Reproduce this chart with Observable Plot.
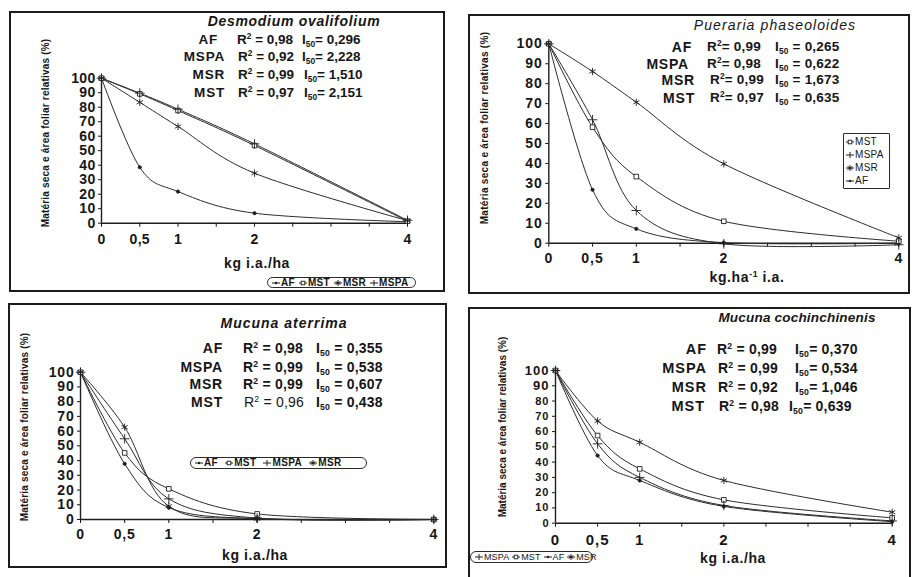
<!DOCTYPE html>
<html><head><meta charset="utf-8">
<script src="https://cdn.jsdelivr.net/npm/d3@7"></script>
<script src="https://cdn.jsdelivr.net/npm/@observablehq/plot@0.6"></script>
<style>
html,body{margin:0;padding:0;background:#fff;}
#root{position:relative;width:914px;height:577px;overflow:hidden;background:#fff;font-family:"Liberation Sans",Arial,Helvetica,sans-serif;color:#161616;}
.abs{position:absolute;white-space:nowrap;line-height:1;}
.box{position:absolute;border:2px solid #1c1c1c;box-sizing:border-box;pointer-events:none;}
sup{font-size:62%;vertical-align:0.6em;line-height:0;}
sub{font-size:62%;vertical-align:-0.3em;line-height:0;}
.leg{position:absolute;border:1px solid #2a2a2a;box-sizing:border-box;line-height:1;white-space:nowrap;overflow:visible;}
.leg span.it{display:inline-flex;align-items:center;}
</style></head><body><div id="root"></div>
<script>
// ---------- data ----------
const doses = [0, 0.5, 1, 2, 4];
const xTickPositions = [0, 0.5, 1, 1.5, 2, 2.5, 3, 3.5, 4];
const xTickValues = [0, 0.5, 1, 2, 4];
const xTickLabels = ["0", "0,5", "1", "2", "4"];
const yTickValues = [0, 10, 20, 30, 40, 50, 60, 70, 80, 90, 100];

// Desmodium ovalifolium
const desmodiumAF   = [100, 38.6, 21.8, 6.9, 1];
const desmodiumMST  = [100, 89.2, 77.7, 53.6, 1.4];
const desmodiumMSPA = [100, 89.7, 78.6, 54.7, 2];
const desmodiumMSR  = [100, 83.4, 66.7, 34.5, 1.8];
const desmodiumNames = ["AF", "MSPA", "MSR", "MST"];
const desmodiumR2  = ["0,98", "0,92", "0,99", "0,97"];
const desmodiumI50 = ["0,296", "2,228", "1,510", "2,151"];

// Pueraria phaseoloides
const puerariaAF   = [100, 26.8, 7.2, 0.3, 0];
const puerariaMST  = [100, 58.2, 33.4, 11, 1];
const puerariaMSPA = [100, 61.9, 16.4, -0.3, -0.8];
const puerariaMSR  = [100, 86.1, 70.7, 39.8, 2.7];
const puerariaNames = ["AF", "MSPA", "MSR", "MST"];
const puerariaR2  = ["0,99", "0,98", "0,99", "0,97"];
const puerariaI50 = ["0,265", "0,622", "1,673", "0,635"];

// Mucuna aterrima
const aterrimaAF   = [100, 37.8, 8.1, 0.5, 0];
const aterrimaMST  = [100, 45.2, 20.8, 3.8, 0];
const aterrimaMSPA = [100, 54.8, 14, 1, 0];
const aterrimaMSR  = [100, 62.7, 9, 0.5, 0];
const aterrimaNames = ["AF", "MSPA", "MSR", "MST"];
const aterrimaR2  = ["0,98", "0,99", "0,99", "0,96"];
const aterrimaI50 = ["0,355", "0,538", "0,607", "0,438"];

// Mucuna cochinchinenis
const cochinAF   = [100, 44.3, 28, 11, 1];
const cochinMST  = [100, 57.4, 35.6, 15.3, 3.5];
const cochinMSPA = [100, 52, 30, 11.6, 1.5];
const cochinMSR  = [100, 67, 53, 28, 7.2];
const cochinNames = ["AF", "MSPA", "MSR", "MST"];
const cochinR2  = ["0,99", "0,99", "0,92", "0,98"];
const cochinI50 = ["0,370", "0,534", "1,046", "0,639"];

// ---------- styling ----------
const INK = "#1e1e1e";
const markerStyle = {
  AF:   {symbol: "circle",   r: 1.6, fill: INK, stroke: INK},
  MST:  {symbol: "square",   r: 2.6, fill: "white", stroke: INK},
  MSPA: {symbol: "plus",     r: 3.2, fill: "none", stroke: INK},
  MSR:  {symbol: "asterisk", r: 3.4, fill: "none", stroke: INK}
};

function glyph(name) {
  let m = "";
  if (name === "AF") m = `<circle cx="4" cy="4" r="1.2" fill="${INK}"/>`;
  if (name === "MST") m = `<rect x="2.2" y="2.2" width="3.6" height="3.6" fill="white" stroke="${INK}" stroke-width="0.9"/>`;
  if (name === "MSPA") m = `<line x1="4" y1="1" x2="4" y2="7" stroke="${INK}"/>`;
  if (name === "MSR") m = `<line x1="4" y1="1" x2="4" y2="7" stroke="${INK}"/><line x1="1.6" y1="2.5" x2="6.4" y2="5.5" stroke="${INK}"/><line x1="1.6" y1="5.5" x2="6.4" y2="2.5" stroke="${INK}"/>`;
  return `<svg width="8" height="8" viewBox="0 0 8 8" style="margin-right:1px"><line x1="0" y1="4" x2="8" y2="4" stroke="${INK}" stroke-width="1"/>${m}</svg>`;
}

const root = document.getElementById("root");
function addText(x, y, html, css, anchor) {
  const d = document.createElement("div");
  d.className = "abs";
  d.innerHTML = html;
  d.style.left = x + "px";
  d.style.top = y + "px";
  const tx = anchor === "end" ? "-100%" : anchor === "middle" ? "-50%" : "0";
  d.style.transform = `translate(${tx},-50%)`;
  Object.assign(d.style, css || {});
  root.appendChild(d);
  return d;
}

function makePanel(cfg) {
  const b = cfg.box;
  const mL = cfg.x0 - b.l, mR = b.l + b.w - cfg.x4, mT = cfg.y100 - b.t, mB = b.t + b.h - cfg.y0;
  const rows = cfg.series.flatMap(s => doses.map((d, i) => ({dose: d, value: s.values[i], name: s.name})));
  const yAxes = cfg.yFontBig
    ? [
        Plot.axisY({ticks: yTickValues.filter(v => v >= 90), tickSize: 3, tickPadding: 3, label: null, fontSize: cfg.yFontBig}),
        Plot.axisY({ticks: yTickValues.filter(v => v < 90), tickSize: 3, tickPadding: 3, label: null, fontSize: cfg.yFont})
      ]
    : [Plot.axisY({ticks: yTickValues, tickSize: 3, tickPadding: 3, label: null, fontSize: cfg.yFont})];
  const svg = Plot.plot({
    width: b.w, height: b.h,
    marginLeft: mL, marginRight: mR, marginTop: mT, marginBottom: mB,
    x: {domain: [0, 4]},
    y: {domain: [0, 100]},
    style: {fontFamily: '"Liberation Sans", Arial, sans-serif', fontWeight: "bold", color: "#161616", background: "transparent", overflow: "visible", letterSpacing: cfg.ls + "px"},
    marks: [
      ...yAxes,
      Plot.axisX({ticks: xTickPositions, tickSize: 4, tickPadding: cfg.xPad, label: null, fontSize: cfg.xFont,
        tickFormat: d => { const i = xTickValues.indexOf(d); return i >= 0 ? xTickLabels[i] : ""; }}),
      Plot.ruleY([0], {stroke: INK, strokeWidth: 1.4}),
      Plot.ruleX([0], {stroke: INK, strokeWidth: 1.4}),
      Plot.line(rows, {x: "dose", y: "value", z: "name", curve: "cardinal", stroke: "#2b2b2b", strokeWidth: 1}),
      ...cfg.series.map(s => Plot.dot(rows.filter(r => r.name === s.name), {x: "dose", y: "value", strokeWidth: 0.9, ...markerStyle[s.name]}))
    ]
  });
  svg.style.position = "absolute";
  svg.style.left = b.l + "px";
  svg.style.top = b.t + "px";
  root.appendChild(svg);

  // title
  addText(cfg.title.x, cfg.title.y, cfg.title.text,
    {fontStyle: "italic", fontWeight: cfg.title.weight, fontSize: cfg.title.size + "px", letterSpacing: cfg.title.ls + "px"}, "middle");
  // y title
  const yt = addText(cfg.yTitle.x, cfg.yTitle.y, "Matéria seca e área foliar relativas (%)",
    {fontWeight: "bold", fontSize: "10px", letterSpacing: cfg.yTitle.ls + "px"}, "middle");
  yt.style.transform = "translate(-50%,-50%) rotate(-90deg)";
  // x title
  addText(cfg.xTitle.x, cfg.xTitle.y, cfg.xTitle.text,
    {fontWeight: "bold", fontSize: cfg.xTitle.size + "px", letterSpacing: "0.6px"}, "middle");
  // stats
  const st = cfg.stats;
  st.names.forEach((n, i) => {
    const nameCss = {fontWeight: "bold", fontSize: st.nameSize + "px", letterSpacing: st.nameLs + "px"};
    const css = {fontWeight: "bold", fontSize: st.size + "px", letterSpacing: st.ls + "px"};
    addText(st.nameRight[i], st.ys[i], n, nameCss, "end");
    const r2css = Object.assign({}, css, st.lightR2 === i ? {fontWeight: "normal"} : {});
    addText(st.r2Left[i], st.ys[i], `R<sup>2</sup>${st.r2Sep}${st.r2[i]}`, r2css, "start");
    addText(st.iLeft[i], st.ys[i], `I<sub>50</sub>${st.iSep}${st.i50[i]}`, css, "start");
  });
  // legend
  const L = cfg.legend;
  const lg = document.createElement("div");
  lg.className = "leg";
  Object.assign(lg.style, {left: L.x + "px", top: L.y + "px", width: L.w + "px", height: L.h + "px",
    borderRadius: L.vertical ? "1px" : "6px", fontWeight: L.weight, letterSpacing: L.ls + "px", fontSize: L.size + "px",
    display: "flex", flexDirection: L.vertical ? "column" : "row", justifyContent: L.vertical ? "space-around" : "flex-start",
    alignItems: L.vertical ? "flex-start" : "center", padding: L.vertical ? "1px 2px" : "0 0 0 4px"});
  lg.innerHTML = L.order.map(n => `<span class="it" style="margin-right:${L.gap}px">${glyph(n)}${n}</span>`).join("");
  root.appendChild(lg);
  // border
  const bx = document.createElement("div");
  bx.className = "box";
  Object.assign(bx.style, {left: b.l + "px", top: b.t + "px", width: b.w + "px", height: b.h + "px"});
  root.appendChild(bx);
}

makePanel({
  box: {l: 9, t: 11, w: 436, h: 281}, x0: 101, x4: 407, y100: 77.7, y0: 222.7,
  yFont: 14, xFont: 14, xPad: 7, ls: 0.3,
  series: [
    {name: "AF", values: desmodiumAF}, {name: "MST", values: desmodiumMST},
    {name: "MSPA", values: desmodiumMSPA}, {name: "MSR", values: desmodiumMSR}
  ],
  title: {x: 294, y: 21, text: "Desmodium ovalifolium", size: 14, ls: 0.7, weight: "bold"},
  yTitle: {x: 46, y: 133, ls: 0.2},
  xTitle: {x: 257, y: 263, text: "kg i.a./ha", size: 14},
  stats: {names: desmodiumNames, r2: desmodiumR2, i50: desmodiumI50, size: 13.5, ls: 0, nameSize: 13.5, nameLs: 0.8,
    ys: [40, 57, 75, 93], nameRight: [218, 225, 225, 225], r2Left: [237, 238, 238, 238], iLeft: [302, 302, 304, 304],
    r2Sep: " = ", iSep: "= "},
  legend: {x: 267, y: 277, w: 149, h: 11, order: ["AF", "MST", "MSR", "MSPA"], weight: "bold", ls: 0.3, size: 10, gap: 4}
});

makePanel({
  box: {l: 468, t: 14, w: 442, h: 280}, x0: 548.3, x4: 898.3, y100: 43.3, y0: 242.7,
  yFont: 14, xFont: 14, xPad: 6, ls: 1,
  series: [
    {name: "AF", values: puerariaAF}, {name: "MST", values: puerariaMST},
    {name: "MSPA", values: puerariaMSPA}, {name: "MSR", values: puerariaMSR}
  ],
  title: {x: 775, y: 25, text: "Pueraria phaseoloides", size: 14, ls: 1.1, weight: "normal"},
  yTitle: {x: 485, y: 128, ls: 0.3},
  xTitle: {x: 747, y: 277, text: "kg.ha<sup>-1</sup> i.a.", size: 14},
  stats: {names: puerariaNames, r2: puerariaR2, i50: puerariaI50, size: 13.5, ls: 0.2, nameSize: 14, nameLs: 0.8,
    ys: [47, 64, 80, 98], nameRight: [692, 689, 695, 695], r2Left: [707, 707, 710, 710], iLeft: [775, 775, 775, 775],
    r2Sep: "= ", iSep: " = "},
  legend: {x: 843, y: 133, w: 47, h: 56, order: ["MST", "MSPA", "MSR", "AF"], weight: "normal", ls: 0.3, size: 10, gap: 0, vertical: true}
});

makePanel({
  box: {l: 8, t: 303, w: 439, h: 265}, x0: 80, x4: 433.3, y100: 371.7, y0: 519,
  yFont: 14, xFont: 14, xPad: 6, ls: 0.8,
  series: [
    {name: "AF", values: aterrimaAF}, {name: "MST", values: aterrimaMST},
    {name: "MSPA", values: aterrimaMSPA}, {name: "MSR", values: aterrimaMSR}
  ],
  title: {x: 284, y: 323, text: "Mucuna aterrima", size: 14, ls: 1, weight: "bold"},
  yTitle: {x: 25, y: 427, ls: 0.2},
  xTitle: {x: 255, y: 555, text: "kg i.a./ha", size: 14},
  stats: {names: aterrimaNames, r2: aterrimaR2, i50: aterrimaI50, size: 14, ls: 0.2, nameSize: 14, nameLs: 0.8,
    ys: [348, 367, 384, 402], nameRight: [223, 223, 223, 223], r2Left: [243, 243, 243, 244], iLeft: [316, 316, 316, 316],
    r2Sep: " = ", iSep: " = ", lightR2: 3},
  legend: {x: 190, y: 457, w: 177, h: 12, order: ["AF", "MST", "MSPA", "MSR"], weight: "bold", ls: 0.4, size: 10, gap: 7}
});

makePanel({
  box: {l: 468, t: 307, w: 443, h: 275}, x0: 555, x4: 891.7, y100: 370, y0: 522.7,
  yFont: 11, yFontBig: 13, xFont: 15, xPad: 7, ls: 1,
  series: [
    {name: "AF", values: cochinAF}, {name: "MST", values: cochinMST},
    {name: "MSPA", values: cochinMSPA}, {name: "MSR", values: cochinMSR}
  ],
  title: {x: 797, y: 318, text: "Mucuna cochinchinenis", size: 13.5, ls: 0.2, weight: "bold"},
  yTitle: {x: 503, y: 427, ls: 0},
  xTitle: {x: 733, y: 558, text: "kg i.a./ha", size: 14},
  stats: {names: cochinNames, r2: cochinR2, i50: cochinI50, size: 14, ls: 0.2, nameSize: 14.5, nameLs: 1,
    ys: [349, 368, 387, 406], nameRight: [707, 707, 707, 705], r2Left: [717, 718, 718, 719], iLeft: [795, 795, 795, 789],
    r2Sep: " = ", iSep: "= "},
  legend: {x: 470, y: 551, w: 123, h: 12, order: ["MSPA", "MST", "AF", "MSR"], weight: "normal", ls: 0.1, size: 9, gap: 3}
});
</script></body></html>
